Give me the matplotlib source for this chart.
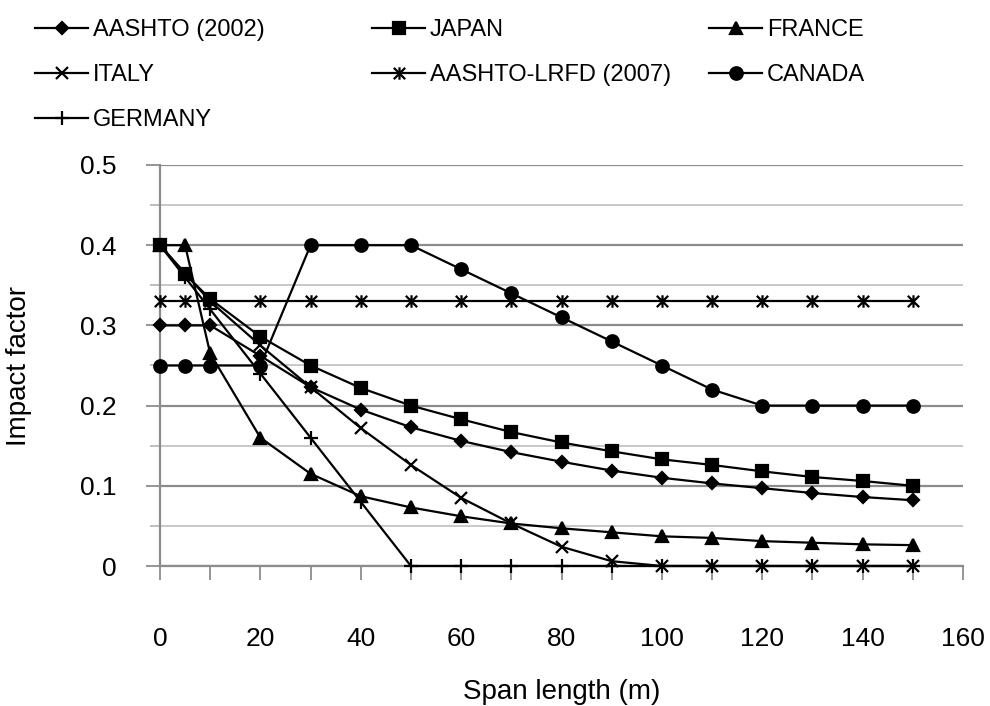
import numpy as np
import matplotlib.pyplot as plt
from matplotlib.path import Path

plt.rcParams['font.family'] = ['Liberation Sans', 'DejaVu Sans']

# span lengths (m) and impact factors for each code
span = [0, 5, 10, 20, 30, 40, 50, 60, 70, 80, 90, 100, 110, 120, 130, 140, 150]

aashto_2002 = [0.30, 0.30, 0.30, 0.262, 0.223, 0.195, 0.173, 0.156, 0.142,
               0.130, 0.119, 0.110, 0.103, 0.097, 0.091, 0.086, 0.082]
japan = [0.40, 0.364, 0.333, 0.286, 0.250, 0.222, 0.200, 0.183, 0.167,
         0.154, 0.143, 0.133, 0.126, 0.118, 0.111, 0.106, 0.100]
france = [0.40, 0.40, 0.265, 0.160, 0.115, 0.087, 0.073, 0.062, 0.053,
          0.047, 0.042, 0.037, 0.035, 0.031, 0.029, 0.027, 0.026]
italy = [0.40, 0.365, 0.330, 0.275, 0.223, 0.172, 0.126, 0.085, 0.053,
         0.024, 0.006, 0.0, 0.0, 0.0, 0.0, 0.0, 0.0]
aashto_lrfd = [0.33, 0.33, 0.33, 0.33, 0.33, 0.33, 0.33, 0.33, 0.33,
               0.33, 0.33, 0.33, 0.33, 0.33, 0.33, 0.33, 0.33]
canada = [0.25, 0.25, 0.25, 0.25, 0.40, 0.40, 0.40, 0.37, 0.34,
          0.31, 0.28, 0.25, 0.22, 0.20, 0.20, 0.20, 0.20]
germany = [0.40, 0.36, 0.32, 0.24, 0.16, 0.08, 0.0, 0.0, 0.0,
           0.0, 0.0, 0.0, 0.0, 0.0, 0.0, 0.0, 0.0]

xticks = [0, 10, 20, 30, 40, 50, 60, 70, 80, 90, 100, 110, 120, 130, 140, 150, 160]
xtick_labels = ['0', '', '20', '', '40', '', '60', '', '80', '', '100', '',
                '120', '', '140', '', '160']
yticks = [0, 0.1, 0.2, 0.3, 0.4, 0.5]
ytick_labels = ['0', '0.1', '0.2', '0.3', '0.4', '0.5']

# excel style star: an x with a vertical bar through it
star = Path([(-1, -1), (1, 1), (-1, 1), (1, -1), (0, -1.1), (0, 1.1)],
            [Path.MOVETO, Path.LINETO, Path.MOVETO, Path.LINETO, Path.MOVETO, Path.LINETO])

series = [
    ('AASHTO (2002)', aashto_2002, 'D', 6),
    ('JAPAN', japan, 's', 9),
    ('FRANCE', france, '^', 9),
    ('ITALY', italy, 'x', 8),
    ('AASHTO-LRFD (2007)', aashto_lrfd, star, 9),
    ('CANADA', canada, 'o', 9),
    ('GERMANY', germany, '+', 10),
]

fig = plt.figure(figsize=(9.9, 7.06), dpi=100)
ax = fig.add_axes([160 / 990, 1 - 566 / 706, 803 / 990, 401 / 706])

handles = {}
for name, vals, mk, ms in series:
    ln, = ax.plot(span, vals, color='black', lw=1.6, marker=mk, markersize=ms,
                  markerfacecolor='black', markeredgecolor='black',
                  markeredgewidth=1.6, label=name, clip_on=False, zorder=3)
    handles[name] = ln

ax.set_xlim(0, 160)
ax.set_ylim(0, 0.5)
ax.set_xticks(xticks)
ax.set_xticklabels(xtick_labels, fontsize=19)
ax.set_yticks(yticks)
ax.set_yticklabels(ytick_labels, fontsize=19)
ax.set_yticks(np.arange(0.05, 0.5, 0.1), minor=True)

ax.tick_params(axis='x', direction='out', length=10, width=1.3, color='#8c8c8c', pad=34)
ax.tick_params(axis='y', which='major', direction='out', length=10, width=1.3,
               color='#8c8c8c', pad=21)
ax.tick_params(axis='y', which='minor', direction='out', length=7, width=1.3, color='#b8b8b8')

ax.grid(axis='y', which='major', color='#8c8c8c', lw=1.6, zorder=0)
ax.grid(axis='y', which='minor', color='#c4c4c4', lw=1.3, zorder=0)
ax.set_axisbelow(True)

for s in ['top', 'right']:
    ax.spines[s].set_visible(False)
for s in ['left', 'bottom']:
    ax.spines[s].set_color('#8c8c8c')
    ax.spines[s].set_linewidth(1.6)

ax.set_xlabel('Span length (m)', fontsize=20)
ax.set_ylabel('Impact factor', fontsize=20)
ax.xaxis.set_label_coords(0.5, -0.282)
ax.yaxis.set_label_coords(-0.159, 0.5)

# legend laid out in three columns, filled row by row
columns = [
    (['AASHTO (2002)', 'ITALY', 'GERMANY'], 35),
    (['JAPAN', 'AASHTO-LRFD (2007)'], 372),
    (['FRANCE', 'CANADA'], 709),
]
for names, x0 in columns:
    fig.legend([handles[n] for n in names], names, loc='upper left',
               bbox_to_anchor=(x0 / 990, 1 - 19 / 706), frameon=False,
               fontsize=17, handlelength=2.25, handletextpad=0.2,
               labelspacing=0.98, borderpad=0, borderaxespad=0)

fig.savefig('out.png', dpi=100)
